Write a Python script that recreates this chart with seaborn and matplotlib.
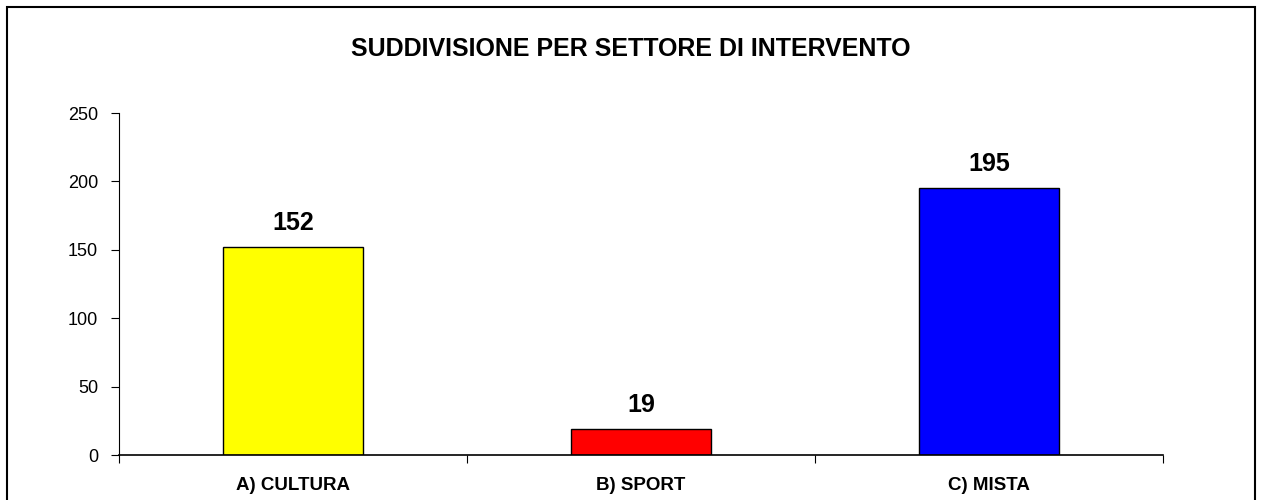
import seaborn as sns
import pandas as pd
import matplotlib.pyplot as plt
from matplotlib.patches import Rectangle

settori = ["A) CULTURA", "B) SPORT", "C) MISTA"]
valori = [152, 19, 195]
colori = ["#FFFF00", "#FF0000", "#0000FF"]

df = pd.DataFrame({"settore": settori, "valore": valori})

sns.set_style("white")
plt.rcParams["font.family"] = ["Liberation Sans", "DejaVu Sans"]
plt.rcParams["text.color"] = "black"
plt.rcParams["xtick.color"] = "black"
plt.rcParams["ytick.color"] = "black"

fig = plt.figure(figsize=(12.62, 5), dpi=100)
ax = fig.add_axes([0.0943, 0.09, 0.8273, 0.684])
sns.barplot(data=df, x="settore", y="valore", hue="settore", palette=colori,
            width=0.4, edgecolor="black", linewidth=1, saturation=1,
            legend=False, ax=ax)

ax.set_ylim(0, 250)
ax.set_xlim(-0.5, 2.5)
ax.set_yticks(range(0, 251, 50))
ax.set_xlabel("")
ax.set_ylabel("")
for s in ["top", "right"]:
    ax.spines[s].set_visible(False)
ax.spines["left"].set_color("black")
ax.spines["bottom"].set_color("black")
ax.spines["left"].set_linewidth(0.8)
ax.spines["bottom"].set_linewidth(1.2)

ax.tick_params(axis="y", direction="out", length=6, width=0.8, color="black",
               labelsize=13, pad=9, left=True)
ax.tick_params(axis="x", which="major", length=0, labelsize=13.5, pad=16)
ax.set_xticks([-0.5, 0.5, 1.5, 2.5], minor=True)
ax.tick_params(axis="x", which="minor", direction="out", length=6, width=0.8,
               color="black", bottom=True)
for lbl in ax.get_xticklabels():
    lbl.set_fontweight("bold")

for i, v in enumerate(valori):
    ax.text(i, v + 12.5, str(v), ha="center", va="baseline", fontsize=18, fontweight="bold")

fig.text(0.50, 0.902, "SUDDIVISIONE PER SETTORE DI INTERVENTO", ha="center", va="center",
         fontsize=18, fontweight="bold")

fig.patches.append(Rectangle((7 / 1262, -0.01), 1248 / 1262, 0.996, transform=fig.transFigure,
                             fill=False, edgecolor="black", linewidth=1.5))

fig.savefig("out.png", dpi=100)
